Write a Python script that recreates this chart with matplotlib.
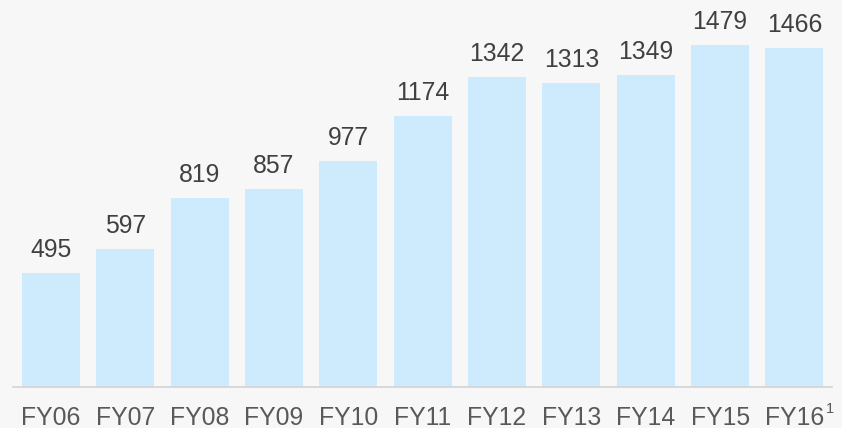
import matplotlib

matplotlib.use("Agg")
import matplotlib.pyplot as plt

years = ["FY06", "FY07", "FY08", "FY09", "FY10", "FY11", "FY12", "FY13", "FY14", "FY15", "FY16"]
values = [495, 597, 819, 857, 977, 1174, 1342, 1313, 1349, 1479, 1466]
footnote = "1"

plt.rcParams["font.family"] = ["Liberation Sans", "DejaVu Sans"]

bg = "#f7f7f7"
fig = plt.figure(figsize=(8.42, 4.28), dpi=100, facecolor=bg)
ax = fig.add_axes([13 / 842, 41 / 428, (832 - 13) / 842, 387 / 428])
ax.set_facecolor(bg)

positions = list(range(len(years)))
ax.bar(positions, values, width=0.78, color="#cdebfd", zorder=2)

# value labels above bars
for pos, val in zip(positions, values):
    ax.annotate(str(val), (pos, val), xytext=(0, 11.5), textcoords="offset points",
                ha="center", va="baseline", fontsize=17.8, color="#404040")

# category labels, baseline-aligned so the footnote mark doesn't shift them
for pos, year in zip(positions, years):
    ax.annotate(year, (pos, 0), xycoords=("data", "axes fraction"), xytext=(0, -27.5),
                textcoords="offset points", ha="center", va="baseline",
                fontsize=17.8, color="#595959", annotation_clip=False)
ax.annotate(footnote, (positions[-1], 0), xycoords=("data", "axes fraction"), xytext=(22.5, -18.5),
            textcoords="offset points", ha="left", va="baseline",
            fontsize=10.5, color="#595959", annotation_clip=False)

ax.set_xlim(-0.51, 10.505)
ax.set_ylim(0, 1674)
ax.set_xticks([])
ax.set_yticks([])
for side in ["top", "right", "left"]:
    ax.spines[side].set_visible(False)
ax.spines["bottom"].set_color("#d4d4d4")
ax.spines["bottom"].set_linewidth(1.2)

fig.savefig("out.png", dpi=100, facecolor=bg)
